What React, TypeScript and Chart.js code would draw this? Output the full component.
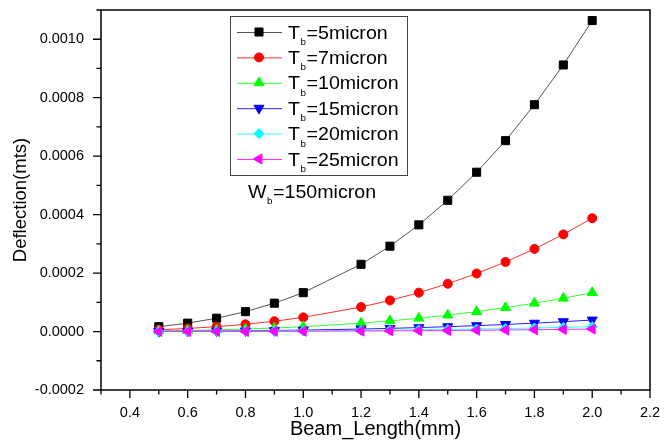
import React, { useEffect, useRef } from 'react';
import { Chart, registerables } from 'chart.js';
import { drawPoint } from 'chart.js/helpers';

Chart.register(...registerables);

// ---- data ----
const LENGTHS = [0.5, 0.6, 0.7, 0.8, 0.9, 1.0, 1.2, 1.3, 1.4, 1.5, 1.6, 1.7, 1.8, 1.9, 2.0];
const T5 = [0.0000166, 0.0000287, 0.0000456, 0.000068, 0.000097, 0.000133, 0.00023, 0.000292, 0.000365, 0.000449, 0.000545, 0.000653, 0.000776, 0.000912, 0.001064];
const T7 = [0.000006, 0.0000105, 0.0000166, 0.0000248, 0.0000353, 0.0000485, 0.0000838, 0.0001065, 0.000133, 0.0001636, 0.0001985, 0.000238, 0.0002826, 0.0003324, 0.0003877];
const T10 = [0.0000021, 0.0000036, 0.0000057, 0.0000085, 0.0000121, 0.0000166, 0.0000287, 0.0000365, 0.0000456, 0.0000561, 0.0000681, 0.0000817, 0.000097, 0.000114, 0.000133];
const T15 = [0.0000006, 0.0000011, 0.0000017, 0.0000025, 0.0000036, 0.0000049, 0.0000085, 0.0000108, 0.0000135, 0.0000166, 0.0000202, 0.0000242, 0.0000287, 0.0000338, 0.0000394];
const T20 = [0.0000003, 0.0000004, 0.0000007, 0.0000011, 0.0000015, 0.0000021, 0.0000036, 0.0000046, 0.0000057, 0.000007, 0.0000085, 0.0000102, 0.0000121, 0.0000143, 0.0000166];
const T25 = [0.0000001, 0.0000002, 0.0000004, 0.0000005, 0.0000008, 0.0000011, 0.0000018, 0.0000023, 0.0000029, 0.0000036, 0.0000044, 0.0000052, 0.0000062, 0.0000073, 0.0000085];
const SERIES = [T5, T7, T10, T15, T20, T25];
const SERIES_LABELS = ['T_b=5micron', 'T_b=7micron', 'T_b=10micron', 'T_b=15micron', 'T_b=20micron', 'T_b=25micron'];
const X_TICKS = [0.3, 0.4, 0.5, 0.6, 0.7, 0.8, 0.9, 1.0, 1.1, 1.2, 1.3, 1.4, 1.5, 1.6, 1.7, 1.8, 1.9, 2.0, 2.1, 2.2];
const Y_TICKS = [-0.0002, -0.0001, 0, 0.0001, 0.0002, 0.0003, 0.0004, 0.0005, 0.0006, 0.0007, 0.0008, 0.0009, 0.001, 0.0011];
const X_TITLE = 'Beam_Length(mm)';
const Y_TITLE = 'Deflection(mts)';
const ANNOTATION = 'W_b=150micron';

// ---- styles ----
const POINT_COLORS = ['#000000', '#ff0000', '#00ff00', '#0000ff', '#00ffff', '#ff00ff'];
const LINE_COLORS = ['#555555', '#ff3030', '#30ff30', '#2020ff', '#30ffff', '#ff30ff'];
const POINT_STYLES = ['rect', 'circle', 'triangle', 'triangle', 'rectRot', 'triangle'];
const POINT_ROTATIONS = [0, 0, 0, 180, 0, 270];
const POINT_RADII = [5.7, 4.5, 5.8, 5.8, 5, 5.8];
const FONT = '"Liberation Sans", Arial, sans-serif';

function splitSub(text: string) {
  const m = text.match(/^([^_]*)_(.)(.*)$/);
  if (!m) return { pre: text, sub: '', post: '' };
  return { pre: m[1], sub: m[2], post: m[3] };
}

function drawSubText(ctx: CanvasRenderingContext2D, text: string, x: number, baseline: number, size: number, sx: number) {
  const { pre, sub, post } = splitSub(text);
  ctx.save();
  ctx.translate(x, baseline);
  ctx.scale(sx, 1);
  ctx.fillStyle = '#000';
  ctx.textBaseline = 'alphabetic';
  ctx.textAlign = 'left';
  ctx.font = `${size}px ${FONT}`;
  ctx.fillText(pre, 0, 0);
  let w = ctx.measureText(pre).width + 0.5;
  ctx.font = `${size * 0.5}px ${FONT}`;
  ctx.fillText(sub, w, size * 0.37);
  w += ctx.measureText(sub).width + 0.5;
  ctx.font = `${size}px ${FONT}`;
  ctx.fillText(post, w, 0);
  ctx.restore();
}

const decorPlugin = {
  id: 'decor',
  afterDraw(chart: any) {
    const ctx: CanvasRenderingContext2D = chart.ctx;
    const ca = chart.chartArea;
    const xs = chart.scales.x;
    const ys = chart.scales.y;
    ctx.save();
    // frame
    ctx.strokeStyle = '#000';
    ctx.lineWidth = 1.5;
    ctx.strokeRect(ca.left, ca.top, ca.right - ca.left, ca.bottom - ca.top);
    // ticks
    ctx.lineWidth = 1.3;
    ctx.beginPath();
    xs.ticks.forEach((t: any) => {
      const major = Math.round(t.value * 10) % 2 === 0;
      const px = xs.getPixelForValue(t.value);
      ctx.moveTo(px, ca.bottom);
      ctx.lineTo(px, ca.bottom + (major ? 8 : 4.5));
    });
    ys.ticks.forEach((t: any) => {
      const major = Math.round(t.value * 10000) % 2 === 0;
      const py = ys.getPixelForValue(t.value);
      ctx.moveTo(ca.left, py);
      ctx.lineTo(ca.left - (major ? 8 : 4.5), py);
    });
    ctx.stroke();

    // legend
    const lx = ca.left + 129;
    const ly = ca.top + 6;
    const lw = 177;
    const lh = 159;
    ctx.fillStyle = '#fff';
    ctx.fillRect(lx, ly, lw, lh);
    ctx.strokeStyle = '#444';
    ctx.lineWidth = 1;
    ctx.strokeRect(lx + 0.5, ly + 0.5, lw, lh);
    chart.data.datasets.forEach((ds: any, i: number) => {
      const cy = ly + 16 + i * 25.4;
      ctx.strokeStyle = ds.borderColor;
      ctx.lineWidth = 1;
      ctx.beginPath();
      ctx.moveTo(lx + 7, cy + 0.5);
      ctx.lineTo(lx + 52, cy + 0.5);
      ctx.stroke();
      ctx.fillStyle = ds.pointBackgroundColor;
      ctx.strokeStyle = ds.pointBorderColor;
      drawPoint(ctx, { pointStyle: ds.pointStyle, rotation: ds.pointRotation, radius: ds.pointRadius, borderWidth: 1 } as any, lx + 29, cy);
      drawSubText(ctx, ds.label, lx + 58, cy + 6.5, 17.5, 1.12);
    });

    // annotation
    drawSubText(ctx, ANNOTATION, ca.left + 147, ca.top + 188, 17.5, 1.12);
    ctx.restore();
  },
};

export default function App() {
  const ref = useRef<HTMLCanvasElement>(null);
  useEffect(() => {
    if (!ref.current) return;
    const datasets = SERIES.map((vals, i) => ({
      label: SERIES_LABELS[i],
      data: LENGTHS.map((x, j) => ({ x, y: vals[j] })),
      borderColor: LINE_COLORS[i],
      borderWidth: 1,
      pointBackgroundColor: POINT_COLORS[i],
      pointBorderColor: POINT_COLORS[i],
      pointBorderWidth: 1,
      pointStyle: POINT_STYLES[i],
      pointRotation: POINT_ROTATIONS[i],
      pointRadius: POINT_RADII[i],
      tension: 0,
      order: SERIES.length - i,
    }));
    const chart = new Chart(ref.current, {
      type: 'line',
      data: { datasets },
      plugins: [decorPlugin],
      options: {
        animation: false,
        responsive: false,
        devicePixelRatio: 1,
        layout: { padding: { top: 10, right: 14, left: 0, bottom: 0 } },
        plugins: { legend: { display: false }, tooltip: { enabled: false } },
        scales: {
          x: {
            type: 'linear',
            min: 0.3,
            max: 2.2,
            afterBuildTicks: (s: any) => { s.ticks = X_TICKS.map((v) => ({ value: v })); },
            afterFit: (s: any) => { s.height = 51; s.paddingLeft = 0; s.paddingRight = 0; },
            grid: { display: false, drawTicks: false },
            border: { display: false },
            ticks: {
              autoSkip: false,
              maxRotation: 0,
              padding: 14,
              color: '#000',
              font: { family: FONT, size: 14.5 },
              callback: (v: any) => (Math.round(Number(v) * 10) % 2 === 0 ? Number(v).toFixed(1) : ''),
            },
            title: {
              display: true,
              text: X_TITLE,
              color: '#000',
              font: { family: FONT, size: 20 },
              padding: { top: 0, bottom: 0 },
            },
          },
          y: {
            type: 'linear',
            min: -0.0002,
            max: 0.0011,
            afterBuildTicks: (s: any) => { s.ticks = Y_TICKS.map((v) => ({ value: v })); },
            afterFit: (s: any) => { s.width = 101; s.paddingTop = 0; s.paddingBottom = 0; },
            grid: { display: false, drawTicks: false },
            border: { display: false },
            ticks: {
              autoSkip: false,
              padding: 17,
              color: '#000',
              font: { family: FONT, size: 14.5 },
              callback: (v: any) => (Math.round(Number(v) * 10000) % 2 === 0 ? Number(v).toFixed(4) : ''),
            },
            title: {
              display: true,
              text: Y_TITLE,
              color: '#000',
              font: { family: FONT, size: 18.5 },
              padding: { top: 10, bottom: 0 },
            },
          },
        },
      } as any,
    });
    return () => chart.destroy();
  }, []);
  return (
    <div style={{ position: 'absolute', left: 0, top: 0, width: 664, height: 441, background: '#fff' }}>
      <canvas ref={ref} width={664} height={441} style={{ display: 'block' }} />
    </div>
  );
}
